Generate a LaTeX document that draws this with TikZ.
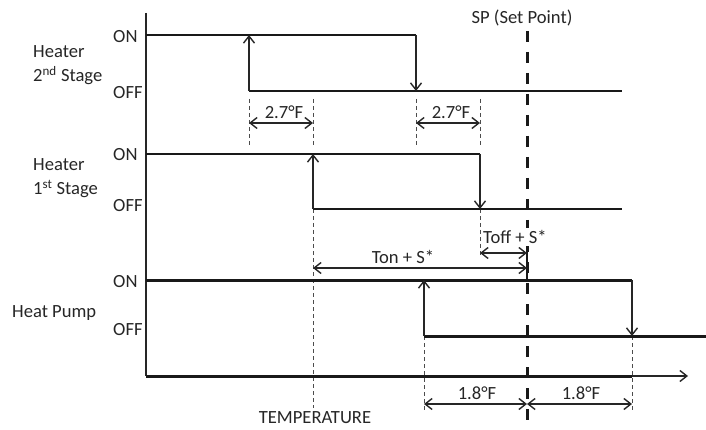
\documentclass[tikz,border=0pt]{standalone}
\usepackage{fontspec}
\setmainfont{Carlito}
\usetikzlibrary{arrows.meta}

\begin{document}
\begin{tikzpicture}[x=1pt,y=-1pt,>={Straight Barb[length=7pt,width=11pt]},
  lbl/.style={font=\fontsize{18.6}{24}\selectfont,text=black!85,inner sep=0pt},
  axisline/.style={line width=2pt,draw=black!85},
  level/.style={line width=2pt,draw=black!90},
  pumplevel/.style={line width=3pt,draw=black!90},
  switch/.style={->,line width=1.4pt,draw=black!85},
  span/.style={<->,line width=1.4pt,draw=black!85},
  guide/.style={line width=0.8pt,draw=black!70,dash pattern=on 4pt off 3pt},
  setpt/.style={line width=3pt,draw=black!90,dash pattern=on 11pt off 10pt}]
\useasboundingbox (0,0) rectangle (706,430);
\coordinate (ax_top) at (146,13);
\coordinate (ax_o) at (146,376);
\coordinate (ax_mid) at (632,376);
\coordinate (ax_end) at (688,376);
\coordinate (h2_on0) at (146,35);
\coordinate (h2_on1) at (416,35);
\coordinate (h2_dn) at (416,91);
\coordinate (h2_off0) at (249,91);
\coordinate (h2_off1) at (622,91);
\coordinate (h2_up) at (249,35);
\coordinate (h1_on0) at (146,154);
\coordinate (h1_on1) at (480,154);
\coordinate (h1_dn) at (480,209);
\coordinate (h1_off0) at (313,209);
\coordinate (h1_off1) at (622,209);
\coordinate (h1_up) at (313,154);
\coordinate (hp_on0) at (146,280);
\coordinate (hp_on1) at (632,280);
\coordinate (hp_dn) at (632,336);
\coordinate (hp_off0) at (424,336);
\coordinate (hp_off1) at (706,336);
\coordinate (hp_up) at (424,280);
\coordinate (sp_top) at (527,31);
\coordinate (sp_bot) at (527,425);
\coordinate (sp_t0) at (527,247);
\coordinate (sp_t1) at (527,280);
% guides
\draw[guide] (249,99) coordinate (g1a) -- (249,146) coordinate (g1b);
\draw[guide] (313,99) coordinate (g2a) -- (313,146) coordinate (g2b);
\draw[guide] (416,99) coordinate (g3a) -- (416,146) coordinate (g3b);
\draw[guide] (480,99) coordinate (g4a) -- (480,146) coordinate (g4b);
\draw[guide] (h1_off0) -- (313,408) coordinate (g5b);
\draw[guide] (h1_dn) -- (480,255) coordinate (g6b);
\draw[guide] (hp_off0) -- (424,412) coordinate (g7b);
\draw[guide] (hp_dn) -- (632,412) coordinate (g8b);
\draw[setpt] (sp_top) -- (sp_bot);
\draw[line width=2.5pt,draw=black!90] (sp_t0) -- (sp_t1);
% labels
\node[lbl,anchor=west,align=left] (h2_name) at (33,65) {Heater\\2\textsuperscript{nd} Stage};
\node[lbl,anchor=west,align=left] (h1_name) at (33,178) {Heater\\1\textsuperscript{st} Stage};
\node[lbl,anchor=west] (hp_name) at (12,313) {Heat Pump};
\node[lbl,anchor=west] (h2_onlbl) at (113,37) {ON};
\node[lbl,anchor=west] (h2_offlbl) at (113,93) {OFF};
\node[lbl,anchor=west] (h1_onlbl) at (113,155) {ON};
\node[lbl,anchor=west] (h1_offlbl) at (113,206) {OFF};
\node[lbl,anchor=west] (hp_onlbl) at (113,282) {ON};
\node[lbl,anchor=west] (hp_offlbl) at (113,330) {OFF};
\node[lbl] (sp_lbl) at (522,18) {SP (Set Point)};
\node[lbl] (temp_lbl) at (315,418) {TEMPERATURE};
\node[lbl] (d2a_lbl) at (284,112) {2.7°F};
\node[lbl] (d2b_lbl) at (451,112) {2.7°F};
\node[lbl,fill=white,inner ysep=2pt] (toff_lbl) at (515,237) {Toff + S*};
\node[lbl] (ton_lbl) at (403,257) {Ton + S*};
\node[lbl] (d1a_lbl) at (477,393) {1.8°F};
\node[lbl] (d1b_lbl) at (581,393) {1.8°F};
% axes
\draw[axisline] (ax_top) -- (ax_o);
\draw[pumplevel] (ax_o) -- (ax_mid);
\draw[->,line width=1.4pt,draw=black!85] (ax_mid) -- (ax_end);
% heater 2nd stage
\draw[level] (h2_on0) -- (h2_on1);
\draw[level] (h2_off0) -- (h2_off1);
\draw[switch] (h2_off0) -- (h2_up);
\draw[switch] (h2_on1) -- (h2_dn);
% heater 1st stage
\draw[level] (h1_on0) -- (h1_on1);
\draw[level] (h1_off0) -- (h1_off1);
\draw[switch] (h1_off0) -- (h1_up);
\draw[switch] (h1_on1) -- (h1_dn);
% heat pump
\draw[pumplevel] (hp_on0) -- (hp_on1);
\draw[pumplevel] (hp_off0) -- (hp_off1);
\draw[switch] (hp_off0) -- (hp_up);
\draw[switch] (hp_on1) -- (hp_dn);
% spans
\draw[span] (249,123) coordinate (d2a0) -- (313,123) coordinate (d2a1);
\draw[span] (416,123) coordinate (d2b0) -- (480,123) coordinate (d2b1);
\draw[span] (480,253) coordinate (toff0) -- (527,253) coordinate (toff1);
\draw[span] (313,268) coordinate (ton0) -- (527,268) coordinate (ton1);
\draw[span] (424,404) coordinate (d1a0) -- (527,404) coordinate (d1a1);
\draw[span] (527,404) coordinate (d1b0) -- (632,404) coordinate (d1b1);
\end{tikzpicture}
\end{document}
